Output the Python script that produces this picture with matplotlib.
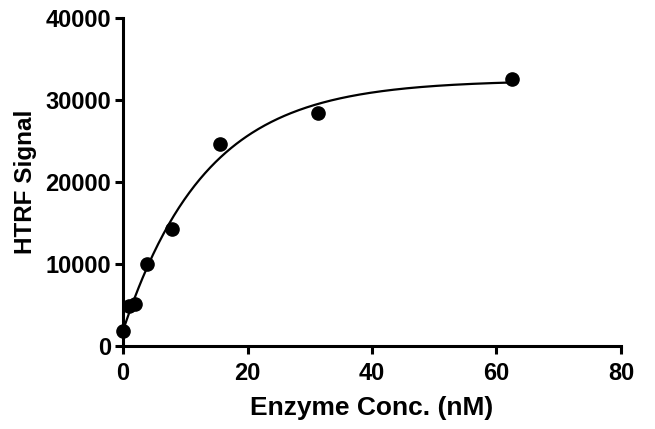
import numpy as np
import matplotlib
matplotlib.use("Agg")
import matplotlib.pyplot as plt

plt.rcParams['font.family'] = ['Liberation Sans', 'DejaVu Sans']
plt.rcParams['font.weight'] = 'bold'

# 数据
enzyme_nM = [0, 0.98, 1.95, 3.9, 7.8, 15.6, 31.25, 62.5]
htrf_signal = [1850, 4900, 5150, 10000, 14250, 24600, 28400, 32500]

x_ticks = [0, 20, 40, 60, 80]
y_ticks = [0, 10000, 20000, 30000, 40000]

# 一相指数结合拟合: Y = Y0 + (Plateau - Y0) * (1 - exp(-K x))
x = np.array(enzyme_nM, dtype=float)
y = np.array(htrf_signal, dtype=float)
best = None
for k in np.linspace(0.01, 0.5, 2000):
    A = np.column_stack([np.ones_like(x), 1 - np.exp(-k * x)])
    coef, *_ = np.linalg.lstsq(A, y, rcond=None)
    err = np.sum((A @ coef - y) ** 2)
    if best is None or err < best[0]:
        best = (err, k, coef)
_, K, (Y0, span) = best
xs = np.linspace(0, max(enzyme_nM), 300)
ys = Y0 + span * (1 - np.exp(-K * xs))

fig = plt.figure(figsize=(6.55, 4.29), dpi=100)
ax = fig.add_axes([0.188, 0.194, 0.760, 0.764])

ax.plot(xs, ys, color='black', lw=1.6, zorder=2)
ax.plot(enzyme_nM, htrf_signal, 'o', color='black', ms=9.5, zorder=3, clip_on=False)

ax.set_xlim(0, 80)
ax.set_ylim(0, 40000)
ax.set_xticks(x_ticks)
ax.set_yticks(y_ticks)
for s in ['top', 'right']:
    ax.spines[s].set_visible(False)
for s in ['left', 'bottom']:
    ax.spines[s].set_linewidth(2.2)
ax.tick_params(width=2.2, length=6, labelsize=17)
ax.tick_params(axis='x', pad=5.5)
ax.tick_params(axis='y', pad=2.5)

ax.set_xlabel('Enzyme Conc. (nM)', fontsize=19, fontweight='bold', labelpad=8)
ax.set_ylabel('HTRF Signal', fontsize=17.5, fontweight='bold', labelpad=6)

fig.savefig('out.png', dpi=100)
